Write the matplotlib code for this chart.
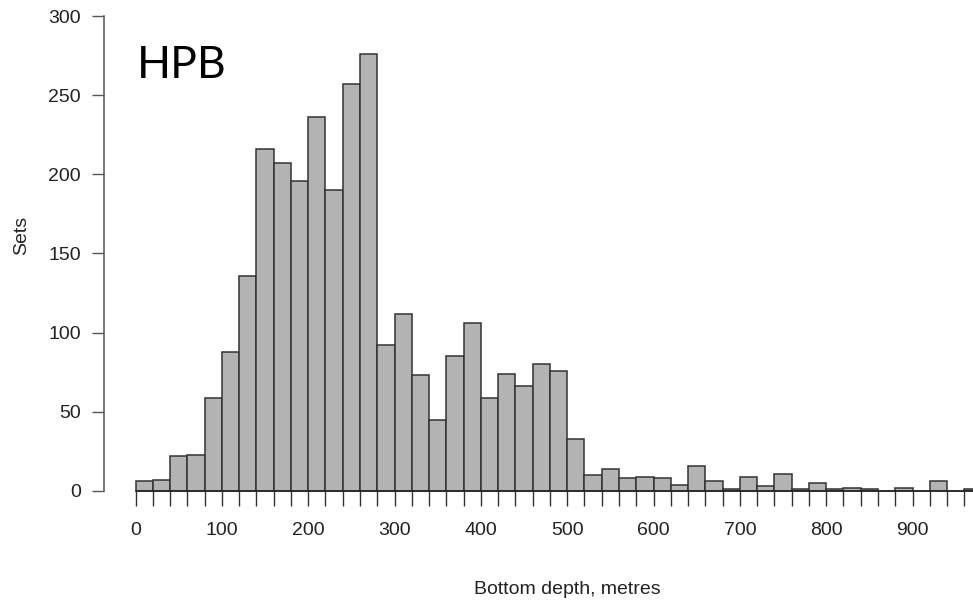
import numpy as np
import matplotlib
matplotlib.use("Agg")
import matplotlib.pyplot as plt

#------------data---------------------------------------#
bin_edges = np.arange(0, 1000, 20)
counts = [6, 7, 22, 23, 59, 88, 136, 216, 207, 196,
          236, 190, 257, 276, 92, 112, 73, 45, 85, 106,
          59, 74, 66, 80, 76, 33, 10, 14, 8, 9,
          8, 4, 16, 6, 1, 9, 3, 11, 1, 5,
          1, 2, 1, 0, 2, 0, 6, 0, 1]
x_labels = [0, 100, 200, 300, 400, 500, 600, 700, 800, 900]
y_labels = [0, 50, 100, 150, 200, 250, 300]

plt.rcParams['font.family'] = ['Liberation Sans', 'DejaVu Sans']

fig = plt.figure(figsize=(9.73, 6.04), dpi=100)
ax = fig.add_axes([0.0994, 0.1871, 0.9006, 0.7864])

ax.bar(bin_edges[:-1], counts, width=20, align='edge',
       color='#b3b3b3', edgecolor='#333333', linewidth=1.1, clip_on=False, zorder=3)

ax.set_xlim(-45, 970)
ax.set_ylim(0, 300)

#---------------axes, R style----------------#
for s in ['top', 'right']:
    ax.spines[s].set_visible(False)
ax.spines['left'].set_position(('data', -36.6))
ax.spines['left'].set_bounds(0, 300)
ax.spines['left'].set_color('#555555')
ax.spines['left'].set_linewidth(1.1)
ax.spines['bottom'].set_bounds(0, 970)
ax.spines['bottom'].set_color('#222222')
ax.spines['bottom'].set_linewidth(1.1)
ax.spines['bottom'].set_zorder(4)

ax.set_xticks(x_labels)
ax.set_xticklabels([str(v) for v in x_labels])
ax.set_xticks(np.arange(0, 961, 20), minor=True)
ax.set_yticks(y_labels)
ax.set_yticklabels([str(v) for v in y_labels])

ax.tick_params(axis='x', which='both', direction='out', length=10.5, width=1.0,
               color='#333333', pad=12, labelsize=14, labelcolor='#222222')
ax.tick_params(axis='y', direction='out', length=8.6, width=1.0,
               color='#555555', pad=8, labelsize=14, labelcolor='#222222')

fig.text(22 / 973, 1 - 235 / 604, 'Sets', rotation=90, ha='center', va='center',
         fontsize=14, color='#222222')
fig.text(567 / 973, 1 - 590 / 604, 'Bottom depth, metres', ha='center', va='center',
         fontsize=14, color='#222222')
fig.text(182 / 973, 1 - 78 / 604, 'HPB', ha='center', va='baseline',
         fontsize=32, family=['Lato', 'DejaVu Sans'], color='black')

fig.savefig('out.png', dpi=100)
